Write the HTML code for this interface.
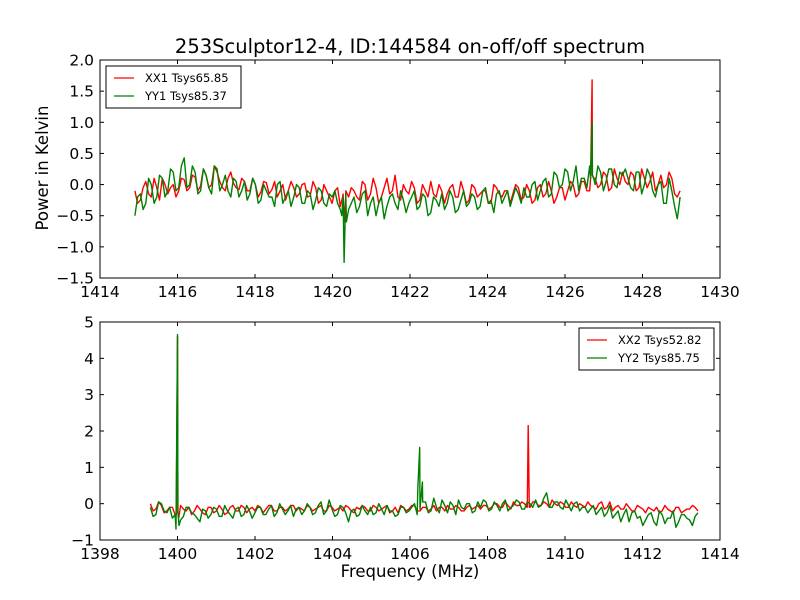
<!DOCTYPE html>
<html><head><meta charset="utf-8"><style>
body{margin:0;background:#fff}
svg{display:block;font-family:"DejaVu Sans","Liberation Sans",sans-serif}
</style></head><body>
<svg id="c" width="800" height="600" viewBox="0 0 800 600"></svg>
<script>
// ---- data ----
const topStart = 1414.9, topStep = 0.1414;
const xx1 = [-0.1,-0.25,0.05,-0.2,-0.05,0.1,-0.15,0.0,-0.1,0.08,
-0.05,0.12,-0.02,0.15,0.0,0.2,-0.05,0.1,0.02,-0.08,
0.05,-0.1,0.0,-0.12,0.03,-0.08,-0.2,0.0,-0.1,-0.05,
-0.15,0.02,-0.18,-0.05,-0.25,-0.1,-0.3,-0.05,-0.15,-0.2,
-0.1,-0.25,0.0,-0.15,-0.05,-0.2,0.1,-0.1,-0.2,0.0,
-0.15,-0.05,-0.25,-0.1,0.05,-0.2,-0.1,-0.15,0.0,-0.2,
-0.1,-0.25,-0.05,-0.15,-0.1,-0.3,-0.05,-0.2,-0.1,-0.15,
-0.05,-0.2,-0.1,-0.25,0.0,-0.15,-0.1,-0.2,-0.05,-0.1,
0.0,-0.15,0.05,-0.1,0.1,0.0,0.15,-0.05,0.1,0.2,
0.0,0.15,-0.05,0.1,0.05,-0.1,0.15,0.0,0.1,-0.2];
const xx1b = [-0.3,-0.05,-0.15,0.1,-0.25,0.0,-0.05,-0.2,0.1,-0.1,
0.15,-0.1,0.25,-0.05,0.3,0.05,-0.1,0.2,-0.05,0.1,
-0.1,0.1,-0.2,0.05,-0.15,0.05,-0.1,-0.25,0.05,-0.2,
0.0,-0.2,0.05,-0.3,0.0,-0.2,-0.1,-0.35,-0.1,-0.05,
-0.2,0.05,-0.25,0.1,-0.3,-0.05,-0.15,0.15,-0.25,-0.1,
0.05,-0.3,0.0,-0.2,-0.15,0.0,-0.3,-0.05,-0.2,0.05,
-0.3,0.0,-0.2,-0.1,-0.3,0.0,-0.15,-0.1,-0.3,0.0,
-0.25,0.0,-0.3,-0.05,-0.2,0.05,-0.3,-0.05,-0.25,0.05,
-0.2,0.05,-0.1,0.15,-0.05,0.2,-0.1,0.25,0.0,0.05,
0.2,-0.1,0.25,-0.05,0.2,0.0,-0.05,0.2,-0.15,-0.1];
const yy1 = [-0.5,-0.15,-0.3,0.0,-0.2,0.1,-0.1,0.2,-0.05,0.43,
0.0,0.2,-0.1,0.15,-0.15,0.25,0.0,-0.1,0.1,-0.2,
0.05,-0.15,0.0,-0.25,-0.1,-0.2,0.0,-0.3,-0.1,-0.2,
-0.05,-0.3,-0.15,-0.25,-0.1,-0.35,-0.2,-0.3,-0.2,-0.4,
-0.2,-0.35,-0.1,-0.3,-0.5,-0.2,-0.35,-0.15,-0.4,-0.25,
-0.3,-0.1,-0.35,-0.2,-0.45,-0.25,-0.15,-0.3,-0.2,-0.4,
-0.1,-0.3,-0.2,-0.35,-0.05,-0.25,-0.15,-0.3,-0.1,-0.2,
-0.15,-0.05,-0.2,0.05,-0.1,0.1,-0.15,0.15,0.0,0.2,
0.05,-0.1,0.1,0.3,0.0,0.2,0.05,0.25,-0.05,0.15,
0.1,-0.1,0.2,0.0,0.15,-0.2,0.05,-0.3,-0.1,-0.55];
const yy1b = [-0.2,-0.4,0.1,-0.3,0.15,-0.2,0.25,-0.1,0.3,-0.05,
0.3,-0.15,0.25,-0.05,0.3,-0.1,0.15,-0.2,0.05,-0.1,
-0.25,0.1,-0.3,0.0,-0.2,-0.35,0.05,-0.2,-0.35,0.0,
-0.3,-0.1,-0.4,-0.05,-0.3,-0.15,-0.1,-0.4,-0.15,-0.3,
-0.45,-0.15,-0.5,-0.2,-0.3,-0.55,-0.2,-0.3,-0.1,-0.45,
-0.2,-0.4,-0.15,-0.5,-0.2,-0.35,-0.4,-0.1,-0.45,-0.25,
-0.35,-0.15,-0.4,-0.1,-0.3,-0.45,-0.1,-0.2,-0.35,-0.05,
-0.3,-0.2,0.0,-0.25,0.05,-0.2,0.2,-0.05,0.25,-0.1,
0.3,0.1,-0.05,0.15,0.3,-0.1,0.25,0.0,0.2,0.25,
-0.05,0.2,-0.15,0.25,-0.1,0.0,-0.3,0.1,-0.35,-0.2];
const xx1SpikeF = [1420.26,1420.3,1420.34,1426.66,1426.7,1426.74];
const xx1SpikeV = [-0.2,-0.6,-0.2,0.1,1.68,0.1];
const yy1SpikeF = [1420.24,1420.3,1420.36,1426.66,1426.7,1426.74];
const yy1SpikeV = [-0.5,-1.25,-0.6,0.1,1.0,0.1];

const botStart = 1399.3, botStep = 0.142;
const xx2 = [0.0,-0.15,-0.05,-0.2,-0.1,-0.25,-0.15,-0.1,-0.2,-0.15,
-0.3,-0.1,-0.2,-0.15,-0.25,-0.05,-0.2,-0.1,-0.15,-0.2,
-0.1,-0.15,-0.05,-0.2,-0.1,-0.15,-0.05,-0.1,-0.2,-0.1,
-0.15,-0.05,-0.2,-0.1,-0.15,-0.2,-0.1,-0.25,-0.15,-0.1,
-0.2,-0.1,-0.15,-0.05,-0.2,-0.25,-0.1,-0.15,-0.05,-0.2,
-0.1,-0.15,-0.2,-0.1,-0.05,-0.15,-0.1,-0.2,-0.05,-0.1,
-0.15,-0.05,-0.1,0.0,-0.1,-0.05,0.05,-0.05,0.0,-0.1,
0.05,-0.05,0.0,0.1,-0.05,0.0,-0.1,-0.05,0.0,-0.1,
-0.05,-0.15,0.05,-0.1,-0.2,-0.05,-0.15,-0.1,-0.2,-0.1,
-0.25,-0.15,-0.1,-0.2,-0.15,-0.25,-0.1,-0.2,-0.15,-0.1];
const xx2b = [-0.2,0.05,-0.25,-0.1,-0.3,-0.05,-0.2,-0.3,-0.05,-0.25,
-0.1,-0.25,-0.05,-0.3,-0.1,-0.2,-0.05,-0.25,-0.1,-0.05,
-0.25,-0.05,-0.2,-0.1,-0.2,-0.05,-0.2,-0.15,-0.05,-0.2,
-0.1,-0.2,-0.05,-0.2,-0.1,-0.05,-0.2,-0.1,-0.05,-0.2,
-0.05,-0.2,-0.1,-0.25,-0.1,-0.05,-0.2,-0.05,-0.2,-0.1,
-0.2,-0.05,-0.1,-0.2,-0.15,-0.05,-0.2,-0.1,-0.15,-0.05,
-0.05,-0.15,0.0,-0.1,0.05,-0.15,-0.05,0.05,-0.1,0.05,
-0.05,0.05,-0.1,0.0,0.05,-0.1,0.05,-0.1,-0.05,0.05,
-0.1,0.0,-0.15,0.05,-0.1,-0.15,0.0,-0.2,-0.05,-0.15,
-0.1,-0.2,-0.25,-0.05,-0.2,-0.1,-0.25,-0.15,-0.05,-0.2];
const yy2 = [-0.1,-0.3,0.0,-0.25,-0.4,-0.2,-0.35,-0.1,-0.3,-0.5,
-0.2,-0.3,-0.15,-0.35,-0.2,-0.4,-0.1,-0.3,-0.2,-0.25,
-0.1,-0.3,-0.05,-0.25,-0.15,-0.2,-0.35,-0.1,-0.2,-0.1,
-0.25,0.05,-0.2,-0.15,-0.3,-0.1,-0.5,-0.15,-0.3,-0.2,
-0.1,-0.25,-0.15,-0.05,-0.2,-0.3,-0.1,-0.2,0.0,-0.15,
0.05,-0.2,-0.1,0.1,-0.25,-0.05,0.1,-0.15,0.0,-0.2,
-0.1,0.05,-0.15,-0.05,0.0,-0.2,-0.05,0.05,-0.15,0.0,
0.1,-0.05,0.3,-0.1,0.05,-0.15,-0.05,0.0,-0.2,-0.1,
-0.15,-0.3,-0.1,-0.25,-0.4,-0.2,-0.3,-0.5,-0.2,-0.35,
-0.45,-0.25,-0.6,-0.3,-0.4,-0.2,-0.5,-0.3,-0.45,-0.35];
const yy2b = [-0.35,0.05,-0.2,-0.1,-0.3,-0.45,-0.1,-0.25,-0.4,-0.15,
-0.4,-0.1,-0.35,-0.05,-0.3,-0.15,-0.35,-0.05,-0.4,-0.1,
-0.3,-0.15,-0.35,0.0,-0.3,-0.05,-0.15,-0.3,0.0,-0.3,
-0.05,-0.3,0.1,-0.35,-0.05,-0.25,-0.2,-0.35,-0.05,-0.3,
-0.3,0.0,-0.3,-0.2,-0.35,-0.1,-0.25,-0.1,-0.3,0.05,
-0.25,0.15,-0.25,-0.05,0.05,-0.3,-0.1,0.0,-0.25,0.05,
0.1,-0.2,0.05,-0.2,0.1,-0.1,0.1,-0.15,0.05,-0.1,
-0.1,0.15,-0.1,0.05,-0.1,0.1,-0.2,0.05,-0.1,-0.25,
-0.05,-0.2,-0.35,-0.05,-0.3,-0.5,-0.15,-0.25,-0.4,-0.6,
-0.3,-0.5,-0.2,-0.55,-0.4,-0.65,-0.3,-0.4,-0.6,-0.25];
const xx2SpikeF = [1399.97,1400.0,1400.03,1409.02,1409.05,1409.08];
const xx2SpikeV = [-0.3,4.6,-0.4,-0.1,2.15,-0.1];
const yy2SpikeF = [1399.96,1400.0,1400.04,1406.2,1406.25,1406.32];
const yy2SpikeV = [-0.7,4.65,-0.6,0.4,1.55,0.6];

const topXTicks = [1414,1416,1418,1420,1422,1424,1426,1428,1430];
const topYTicks = [-1.5,-1.0,-0.5,0.0,0.5,1.0,1.5,2.0];
const botXTicks = [1398,1400,1402,1404,1406,1408,1410,1412,1414];
const botYTicks = [-1,0,1,2,3,4,5];

// ---- drawing ----
const NS="http://www.w3.org/2000/svg";
const svg=document.getElementById('c');
function el(t,a,p){const e=document.createElementNS(NS,t);for(const k in a)e.setAttribute(k,a[k]);(p||svg).appendChild(e);return e;}
function merge(start,step,vals,valsB,sf,sv){
  const pts=vals.map((v,i)=>[start+i*step,v]);
  valsB.forEach((v,i)=>pts.push([start+(i+0.5)*step,v]));
  sf.forEach((f,i)=>pts.push([f,sv[i]]));
  pts.sort((a,b)=>a[0]-b[0]);return pts;}

function panel(name,box,xd,yd,xt,yt,fmtY,series,legend,legendBox){
  const g=el('g',{});
  
  
  const sx=v=>box.x+(v-xd[0])/(xd[1]-xd[0])*box.w;
  const sy=v=>box.y+box.h-(v-yd[0])/(yd[1]-yd[0])*box.h;
  const cp='cp'+name;
  const defs=el('defs',{},g);const c=el('clipPath',{id:cp},defs);
  el('rect',{x:box.x,y:box.y,width:box.w,height:box.h},c);
  series.forEach(s=>{
    const d=s.pts.map((p,i)=>(i?'L':'M')+sx(p[0]).toFixed(1)+' '+sy(p[1]).toFixed(1)).join('');
    const path=el('path',{d:d,fill:'none',stroke:s.color,'stroke-width':1.4,'stroke-linejoin':'round','clip-path':'url(#'+cp+')'},g);
    
    
  });
  el('rect',{x:box.x,y:box.y,width:box.w,height:box.h,fill:'none',stroke:'#000','stroke-width':1},g);
  xt.forEach(v=>{const x=sx(v);
    el('line',{x1:x,x2:x,y1:box.y+box.h,y2:box.y+box.h-4,stroke:'#000'},g);
    el('line',{x1:x,x2:x,y1:box.y,y2:box.y+4,stroke:'#000'},g);
    const t=el('text',{x:x,y:box.y+box.h+19,'text-anchor':'middle','font-size':15.5},g);t.textContent=v;
    
    });
  yt.forEach(v=>{const y=sy(v);
    el('line',{x1:box.x,x2:box.x+4,y1:y,y2:y,stroke:'#000'},g);
    el('line',{x1:box.x+box.w,x2:box.x+box.w-4,y1:y,y2:y,stroke:'#000'},g);
    const t=el('text',{x:box.x-6,y:y+5.5,'text-anchor':'end','font-size':15.5},g);t.textContent=fmtY(v);
    
    });
  const lg=el('g',{},g);
  
  
  el('rect',{x:legendBox.x,y:legendBox.y,width:legendBox.w,height:legendBox.h,fill:'#fff',stroke:'#000'},lg);
  legend.forEach((l,i)=>{const y=legendBox.y+12+i*18;
    el('line',{x1:legendBox.x+8,x2:legendBox.x+28,y1:y,y2:y,stroke:l.color,'stroke-width':1.2},lg);
    const t=el('text',{x:legendBox.x+39,y:y+4,'font-size':11.5},lg);t.textContent=l.label;
    
    });
}
const fmt1=v=>(v<0?'\u2212':'')+Math.abs(v).toFixed(1);
const fmt0=v=>(v<0?'\u2212':'')+Math.abs(v);
panel('top-panel',{x:100,y:60,w:620,h:218},[1414,1430],[-1.5,2.0],topXTicks,topYTicks,fmt1,
 [{name:'xx1-line',color:'#ff0000',pts:merge(topStart,topStep,xx1,xx1b,xx1SpikeF,xx1SpikeV)},
  {name:'yy1-line',color:'#008000',pts:merge(topStart,topStep,yy1,yy1b,yy1SpikeF,yy1SpikeV)}],
 [{color:'#ff0000',label:'XX1 Tsys65.85'},{color:'#008000',label:'YY1 Tsys85.37'}],
 {x:106,y:66,w:135,h:42});
panel('bottom-panel',{x:100,y:322,w:620,h:218},[1398,1414],[-1,5],botXTicks,botYTicks,fmt0,
 [{name:'xx2-line',color:'#ff0000',pts:merge(botStart,botStep,xx2,xx2b,xx2SpikeF,xx2SpikeV)},
  {name:'yy2-line',color:'#008000',pts:merge(botStart,botStep,yy2,yy2b,yy2SpikeF,yy2SpikeV)}],
 [{color:'#ff0000',label:'XX2 Tsys52.82'},{color:'#008000',label:'YY2 Tsys85.75'}],
 {x:579,y:328,w:135,h:42});
const title=el('text',{x:410,y:53,'text-anchor':'middle','font-size':19.5});title.textContent='253Sculptor12-4, ID:144584 on-off/off spectrum';


const xl=el('text',{x:410,y:577,'text-anchor':'middle','font-size':16.5});xl.textContent='Frequency (MHz)';


const yl=el('text',{x:0,y:0,'text-anchor':'middle','font-size':16.5,transform:'translate(48,168) rotate(-90)'});yl.textContent='Power in Kelvin';


</script>
</body></html>
